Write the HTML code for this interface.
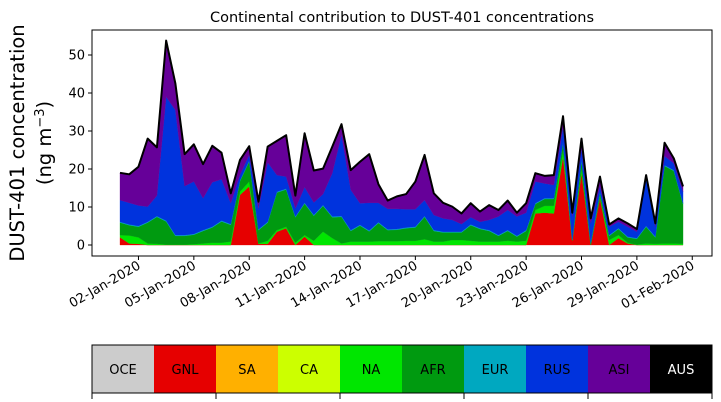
<!DOCTYPE html>
<html><head><meta charset="utf-8"><style>
body{margin:0;background:#fff;}
svg{display:block;font-family:"DejaVu Sans","Liberation Sans",sans-serif;}
</style></head><body>
<svg id="chart" width="721" height="402" viewBox="0 0 721 402">
<text x="402" y="22" text-anchor="middle" font-size="14.5">Continental contribution to DUST-401 concentrations</text>
<g id="areas"></g>
<g id="yaxis"></g>
<g id="xaxis"></g>
<rect x="92" y="30" width="620" height="226" fill="none" stroke="#000" stroke-width="1"/>
<text transform="translate(24,143) rotate(-90)" text-anchor="middle" font-size="19.5">DUST-401 concentration</text>
<text transform="translate(51,143) rotate(-90)" text-anchor="middle" font-size="19.5">(ng m<tspan baseline-shift="super" font-size="13">−3</tspan>)</text>
<g id="legend"></g>
</svg>
<script>
const dayStart = 1; // 01-Jan 00:00, 12-hourly
const GNL=[2.0,0.4,0.3,0,0,0,0,0,0,0,0,0,0,13.2,15.4,0.3,0.3,3.5,4.4,0,2.2,0,0,0,0,0,0,0,0,0,0,0,0,0,0,0,0,0,0,0,0,0,0,0,0,8.3,8.5,8.3,23.2,1.1,18.9,0,12.3,0,1.8,0.4,0,0,0,0,0,0];
const NA=[0.6,2.1,1.7,0.4,0.3,0.1,0.1,0.1,0.2,0.4,0.6,0.6,0.9,0.8,1.3,0.1,0.8,0.4,0.4,0.6,0.4,1.1,3.5,1.8,0.4,0.9,0.9,0.9,1.0,1.0,1.0,1.1,1.1,1.5,0.9,0.9,1.3,1.3,1.1,0.9,0.9,0.9,1.1,0.9,1.1,0.9,1.8,2.0,1.8,0.1,1.1,0,0.6,1.3,0.8,0.2,0.1,0.4,0.3,0.4,0.4,0.3];
const AFR=[3.3,2.7,2.8,5.5,7.1,6.1,2.3,2.3,2.5,3.3,4.0,5.6,4.4,2.8,5.3,3.5,4.8,9.9,9.8,6.7,8.3,6.6,6.8,5.5,7.0,2.8,4.2,2.7,4.8,2.9,3.0,3.3,3.5,5.9,2.8,2.4,2.0,2.0,4.1,3.3,2.8,1.5,2.6,1.3,2.6,1.6,1.8,1.8,1.8,0.1,2.3,0.4,0.9,1.1,1.6,1.4,1.5,4.4,1.7,20.4,19.1,10.5];
const EUR=[0.2,0.2,0.2,0.2,0.2,0.2,0.2,0.2,0.2,0.2,0.2,0.2,0.2,0.2,0.2,0.2,0.2,0.2,0.2,0.2,0.2,0.2,0.2,0.2,0.2,0.2,0.2,0.2,0.2,0.2,0.2,0.2,0.2,0.2,0.2,0.2,0.2,0.2,0.2,0.2,0.2,0.2,0.2,0.2,0.2,0.2,0.2,0.2,0.2,0.2,0.2,0.2,0.2,0.2,0.2,0.2,0.2,0.2,0.2,0.2,0.2,0.2];
const RUS=[5.7,5.7,5.4,4.0,5.4,32.6,32.9,12.9,13.8,8.4,11.7,10.9,5.5,1.5,1.5,5.5,15.6,4.4,3.2,2.1,4.1,3.3,2.9,11.4,21.4,10.6,5.7,7.3,5.1,5.4,5.3,4.8,4.6,4.2,4.0,3.5,3.1,2.0,1.9,1.7,2.7,4.9,5.3,5.1,4.6,5.7,3.9,3.5,4.1,6.0,2.9,5.1,1.5,2.2,1.7,2.6,1.7,13.0,2.6,2.4,1.8,3.0];
const ASI=[7.2,7.5,10.2,17.9,12.7,14.8,7.0,8.4,9.8,9.0,9.6,7.0,2.6,3.9,2.3,1.8,4.2,9.0,10.9,3.4,14.2,8.4,6.7,7.0,2.8,5.2,10.9,12.8,4.9,2.2,3.3,4.0,7.3,11.9,5.7,4.1,3.5,2.8,3.7,2.7,3.9,1.7,2.5,1.0,2.5,2.2,2.0,2.6,2.8,1.0,2.6,1.3,2.5,0.6,0.9,0.9,0.7,0.4,0.9,3.5,1.3,1.4];
const yTicks=[0,10,20,30,40,50];
const xTickDays=[2,5,8,11,14,17,20,23,26,29,32];
const xTickLabels=["02-Jan-2020","05-Jan-2020","08-Jan-2020","11-Jan-2020","14-Jan-2020","17-Jan-2020","20-Jan-2020","23-Jan-2020","26-Jan-2020","29-Jan-2020","01-Feb-2020"];
const legendNames=["OCE","GNL","SA","CA","NA","AFR","EUR","RUS","ASI","AUS"];
const legendColors=["#cccccc","#e60000","#ffb000","#ccff00","#00e600","#009a10","#00a8c0","#0033dd","#660099","#000000"];

const NS="http://www.w3.org/2000/svg";
const px = d => 120 + 18.46*(d-1);
const sx = i => px(dayStart + i*0.5);
const sy = v => 245 - 3.8*v;
function mk(tag, attrs, parent){const e=document.createElementNS(NS,tag);for(const k in attrs)e.setAttribute(k,attrs[k]);parent.appendChild(e);return e;}

const layers=[[GNL,"#e60000","gnl"],[NA,"#00e600","na"],[AFR,"#009a10","afr"],[EUR,"#00a8c0","eur"],[RUS,"#0033dd","rus"],[ASI,"#660099","asi"]];
const areas=document.getElementById('areas');
let base=GNL.map(()=>0);
layers.forEach(([arr,col,nm])=>{
  const top=arr.map((v,i)=>base[i]+v);
  let d="M"+top.map((v,i)=>sx(i).toFixed(2)+","+sy(v).toFixed(2)).join(" L");
  for(let i=base.length-1;i>=0;i--) d+=" L"+sx(i).toFixed(2)+","+sy(base[i]).toFixed(2);
  const p=mk('path',{d:d+"Z",fill:col,stroke:col,'stroke-width':0.3},areas);
  
  
  base=top;
});
const tl=mk('polyline',{points:base.map((v,i)=>sx(i).toFixed(2)+","+sy(v).toFixed(2)).join(" "),fill:"none",stroke:"#000",'stroke-width':2,'stroke-linejoin':'round'},areas);



const ya=document.getElementById('yaxis');
yTicks.forEach(t=>{
  const l=mk('line',{x1:88,x2:92,y1:sy(t),y2:sy(t),stroke:"#000"},ya);
  
  
  const tx=mk('text',{x:85,y:sy(t)+4.5,'text-anchor':'end','font-size':13},ya);
  tx.textContent=t;
  
  
});
const xa=document.getElementById('xaxis');
xTickDays.forEach((d,k)=>{
  const x=px(d);
  const l=mk('line',{x1:x,x2:x,y1:256,y2:260,stroke:"#000"},xa);
  
  
  const tx=mk('text',{transform:`translate(${x+3},${268}) rotate(-30)`,'text-anchor':'end','font-size':13},xa);
  tx.textContent=xTickLabels[k];
  
  
});
const lg=document.getElementById('legend');
const cw=62;
legendNames.forEach((n,k)=>{
  const r=mk('rect',{x:92+k*cw,y:345,width:cw,height:48,fill:legendColors[k]},lg);
  
  
  const t=mk('text',{x:92+k*cw+cw/2,y:374,'text-anchor':'middle','font-size':13,fill:n==="AUS"?"#fff":"#000"},lg);
  t.textContent=n;
  
  
});
const fr=mk('rect',{x:92,y:345,width:620,height:48,fill:"none",stroke:"#000"},lg);


[0,2,4,6,8,10].forEach(k=>{
  const l=mk('line',{x1:92+k*cw,x2:92+k*cw,y1:393,y2:399,stroke:"#000"},lg);
  
  
});
</script>
</body></html>
